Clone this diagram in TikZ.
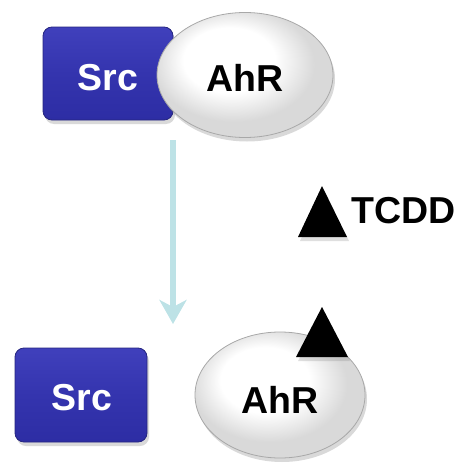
\documentclass[tikz,border=0pt]{standalone}
\usepackage{fontspec}
\setmainfont{Liberation Sans}
\usetikzlibrary{shapes.geometric,shadows,arrows.meta}
\definecolor{srcTop}{HTML}{4040BC}
\definecolor{srcMid}{HTML}{3434AE}
\definecolor{srcBot}{HTML}{2D2DA4}
\definecolor{srcEdge}{HTML}{25257F}
\definecolor{ahrEdge}{HTML}{A8A8A8}
\definecolor{ahrOut}{HTML}{D9D9D9}
\definecolor{flow}{HTML}{BDE2E6}
% mostly white sphere-like fill, greying only near the rim
\pgfdeclareradialshading{ahrshade}{\pgfpoint{-6bp}{8bp}}{%
  color(0bp)=(white); color(13bp)=(white); color(23bp)=(ahrOut);
  color(26bp)=(ahrOut); color(50bp)=(ahrOut)}
\tikzset{
  srcbox/.style={rectangle, rounded corners=9pt, draw=srcEdge, line width=0.8pt,
    top color=srcTop, bottom color=srcBot, middle color=srcMid,
    drop shadow={opacity=0.3, shadow xshift=2pt, shadow yshift=-4pt}},
  ahrbox/.style={ellipse, draw=ahrEdge, line width=0.8pt, shading=ahrshade,
    drop shadow={opacity=0.3, shadow xshift=2pt, shadow yshift=-4pt}},
  lbl/.style={font=\fontsize{37.5}{37.5}\selectfont\bfseries, inner sep=0pt},
  ligand/.style={fill=black,
    drop shadow={opacity=0.25, shadow xshift=2pt, shadow yshift=-4pt}},
  flowarrow/.style={draw=flow, line width=6.5pt,
    -{Stealth[length=24pt, width=27pt, inset=7pt]}}
}
\begin{document}
\begin{tikzpicture}[x=1pt, y=-1pt]
  \useasboundingbox (0,0) rectangle (457,463);

  % bound complex: Src with AhR
  \node[srcbox, minimum width=130pt, minimum height=93pt] (srcA) at (108,73.5) {};
  \node[lbl, text=white] (srcAtext) at (108,78) {Src};
  \node[ahrbox, minimum width=176pt, minimum height=125pt] (ahrA) at (245,75) {};
  \node[lbl] (ahrAtext) at (245,78) {AhR};

  % transition arrow
  \coordinate (flowStart) at (173,140);
  \coordinate (flowEnd) at (173,324);
  \draw[flowarrow] (flowStart) -- (flowEnd);

  % free ligand
  \coordinate (tA) at (322,186);
  \coordinate (tB) at (298,237);
  \coordinate (tC) at (347,237);
  \fill[ligand] (tA) -- (tB) -- (tC) -- cycle;
  \node[lbl, anchor=west] (tcdd) at (351,211) {TCDD};

  % dissociated state
  \node[srcbox, minimum width=132pt, minimum height=94pt] (srcB) at (81,395) {};
  \node[lbl, text=white] (srcBtext) at (82,398) {Src};
  \node[ahrbox, minimum width=170pt, minimum height=126pt] (ahrB) at (280,395) {};
  \node[lbl] (ahrBtext) at (280,400) {AhR};

  % ligand bound to AhR
  \coordinate (bA) at (322,307);
  \coordinate (bB) at (296,357);
  \coordinate (bC) at (348,357);
  \fill[ligand] (bA) -- (bB) -- (bC) -- cycle;
\end{tikzpicture}
\end{document}
